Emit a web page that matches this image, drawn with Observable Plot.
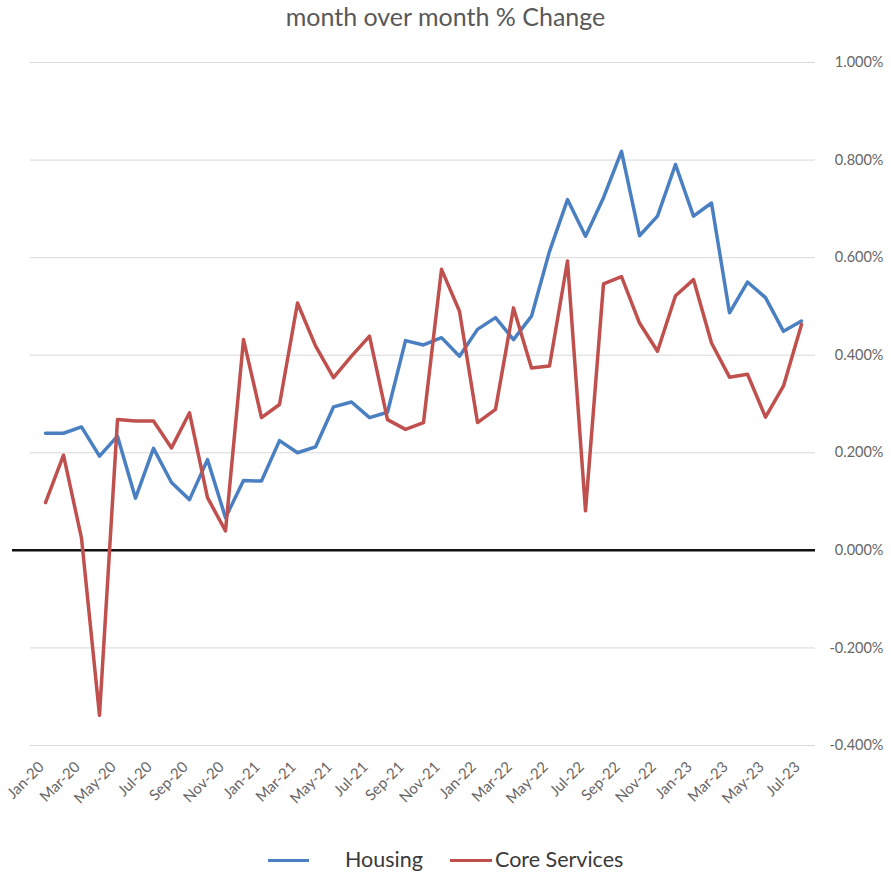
<!DOCTYPE html>
<html>
<head>
<meta charset="utf-8">
<script src="https://cdn.jsdelivr.net/npm/d3@7"></script>
<script src="https://cdn.jsdelivr.net/npm/@observablehq/plot@0.6"></script>
<style>
  body { margin: 0; background: #fff; font-family: Lato, "Open Sans", sans-serif; }
  #title { height: 36px; line-height: 32px; text-align: center; font-size: 25px; color: #595959; }
  #legend { position: relative; height: 39px; }
  #legend .sw { position: absolute; height: 3px; top: 23px; }
  #legend .lb { position: absolute; top: 9px; font-size: 21.5px; color: #3a3a3a; line-height: 28px; }
</style>
</head>
<body>
<div id="title">month over month % Change</div>
<div id="chart"></div>
<div id="legend">
  <div class="sw" style="left:268px;width:41px;background:#4a7fc1"></div>
  <div class="lb" style="left:345px">Housing</div>
  <div class="sw" style="left:450px;width:42px;background:#c0504d"></div>
  <div class="lb" style="left:495px">Core Services</div>
</div>
<script>
const months = ["Jan-20","Feb-20","Mar-20","Apr-20","May-20","Jun-20","Jul-20","Aug-20","Sep-20","Oct-20","Nov-20","Dec-20",
  "Jan-21","Feb-21","Mar-21","Apr-21","May-21","Jun-21","Jul-21","Aug-21","Sep-21","Oct-21","Nov-21","Dec-21",
  "Jan-22","Feb-22","Mar-22","Apr-22","May-22","Jun-22","Jul-22","Aug-22","Sep-22","Oct-22","Nov-22","Dec-22",
  "Jan-23","Feb-23","Mar-23","Apr-23","May-23","Jun-23","Jul-23"];
const housing = [0.240,0.240,0.253,0.193,0.234,0.107,0.209,0.139,0.104,0.186,0.067,0.143,
  0.142,0.225,0.200,0.212,0.294,0.304,0.272,0.283,0.430,0.421,0.436,0.398,
  0.453,0.477,0.432,0.480,0.613,0.719,0.644,0.723,0.818,0.645,0.685,0.791,
  0.685,0.712,0.487,0.550,0.518,0.449,0.470];
const coreServices = [0.098,0.195,0.025,-0.338,0.268,0.265,0.265,0.210,0.282,0.108,0.040,0.432,
  0.272,0.299,0.507,0.419,0.354,0.398,0.439,0.268,0.248,0.262,0.576,0.490,
  0.262,0.289,0.497,0.374,0.378,0.593,0.081,0.546,0.561,0.466,0.408,0.522,
  0.555,0.425,0.355,0.361,0.273,0.337,0.463];
const xTickLabels = months.filter((d, i) => i % 2 === 0);
const yTicks = [-0.4, -0.2, 0, 0.2, 0.4, 0.6, 0.8, 1.0];

const housingData = months.map((m, i) => ({month: m, value: housing[i]}));
const coreData = months.map((m, i) => ({month: m, value: coreServices[i]}));

const chart = Plot.plot({
  width: 891,
  height: 800,
  marginTop: 26,
  marginBottom: 91,
  marginLeft: 30,
  marginRight: 76,
  style: {fontFamily: "Lato, 'Open Sans', sans-serif", background: "#fff"},
  x: {type: "point", domain: months, padding: 0.5},
  y: {domain: [-0.4, 1.0]},
  marks: [
    Plot.gridY(yTicks.filter(d => d !== 0), {stroke: "#d9d9d9", strokeOpacity: 1, strokeWidth: 1}),
    Plot.axisY(yTicks, {anchor: "right", tickSize: 0, tickPadding: 0, textAnchor: "end", dx: 68,
      tickFormat: d => d.toFixed(3) + "%", fontSize: 14.5, fill: "#666", label: null}),
    Plot.axisX(xTickLabels, {anchor: "bottom", tickSize: 0, tickRotate: -45, tickPadding: 14,
      dx: -4, dy: 5, fontSize: 15, fill: "#666", label: null}),
    Plot.ruleY([0], {stroke: "#111", strokeWidth: 2.5, insetLeft: -18}),
    Plot.line(housingData, {x: "month", y: "value", stroke: "#4a7fc1", strokeWidth: 3.5}),
    Plot.line(coreData, {x: "month", y: "value", stroke: "#c0504d", strokeWidth: 3.5})
  ]
});
document.getElementById("chart").appendChild(chart);
</script>
</body>
</html>
